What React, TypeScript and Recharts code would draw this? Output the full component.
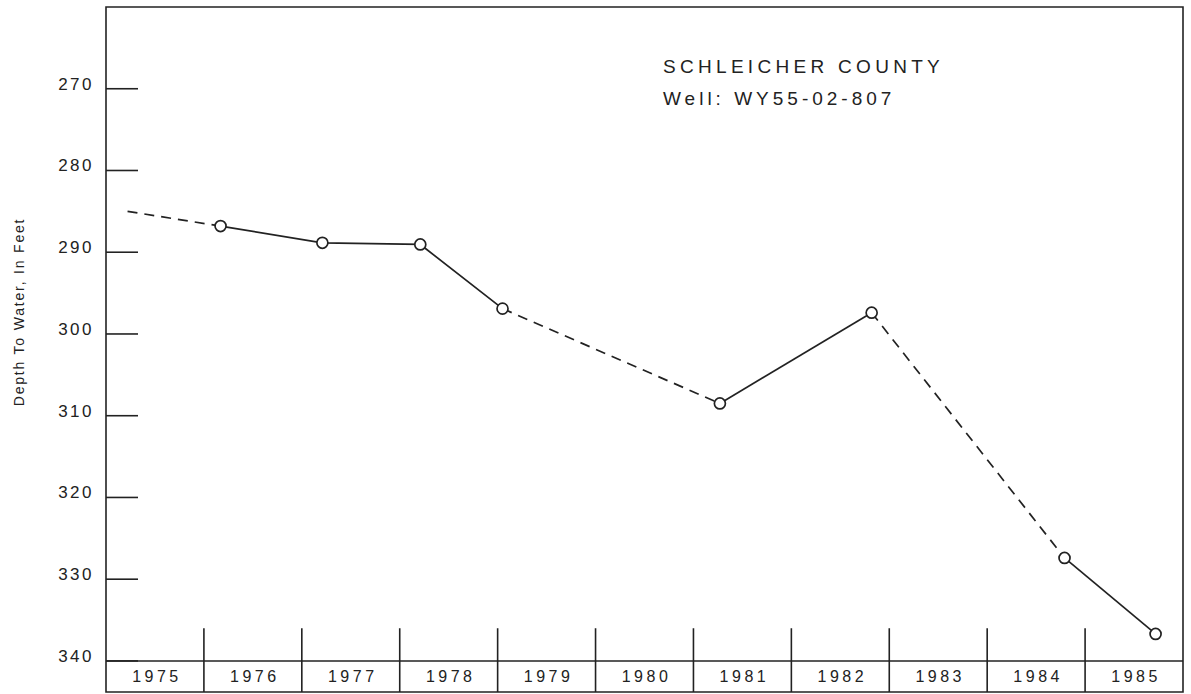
import React from "react";
import {
  LineChart,
  Line,
  XAxis,
  YAxis,
  ReferenceLine,
  ReferenceArea,
} from "recharts";

// year labels shown in the strip along the bottom
const yearLabels = ["1975", "1976", "1977", "1978", "1979", "1980", "1981", "1982", "1983", "1984", "1985"];
const yearBoundaries = [1976, 1977, 1978, 1979, 1980, 1981, 1982, 1983, 1984, 1985];
const depthTicks = [270, 280, 290, 300, 310, 320, 330, 340];

// measurement dates (decimal years) and depth to water in feet
const measureYears = [1975.22, 1976.17, 1977.21, 1978.21, 1979.05, 1981.27, 1982.82, 1984.79, 1985.72];
const depthFeet = [285.0, 286.8, 288.85, 289.05, 296.9, 308.5, 297.4, 327.4, 336.7];

// which points are joined by a dashed (estimated) or solid line
const dashedRuns = [[0, 1], [4, 5], [6, 7]];
const solidRuns = [[1, 4], [5, 6], [7, 8]];

const points = measureYears.map((year, i) => ({ year, depth: depthFeet[i] }));
const runData = (run: number[]) => points.slice(run[0], run[1] + 1);

const INK = "#222";
const FONT = "'Liberation Sans', Arial, sans-serif";

const DepthTick = (props: any) => {
  const { x, y, payload } = props;
  return (
    <g>
      <line x1={x} x2={x + 32} y1={y} y2={y} stroke={INK} strokeWidth={1.6} />
      <text x={x - 12} y={y + 1} textAnchor="end" fontSize={17} letterSpacing={2.5} fill={INK} fontFamily={FONT}>
        {payload.value}
      </text>
    </g>
  );
};

const YearLabel = (props: any) => {
  const { viewBox, text } = props;
  if (!viewBox) return null;
  return (
    <text
      x={viewBox.x + viewBox.width / 2 + 2}
      y={viewBox.y + viewBox.height / 2 + 6}
      textAnchor="middle"
      fontSize={16}
      letterSpacing={3.5}
      fill={INK}
      fontFamily={FONT}
    >
      {text}
    </text>
  );
};

const App = () => {
  return (
    <div style={{ position: "absolute", left: 0, top: 0, background: "#fff" }}>
      <LineChart width={1191} height={694} margin={{ top: 7, right: 8, bottom: 2, left: 0 }}>
        <XAxis dataKey="year" type="number" domain={[1975, 1986]} hide allowDataOverflow />
        <YAxis
          type="number"
          reversed
          domain={[260, 343.8]}
          ticks={depthTicks}
          tick={<DepthTick />}
          axisLine={false}
          tickLine={false}
          tickSize={0}
          tickMargin={0}
          width={106}
          allowDataOverflow
        />
        <ReferenceArea x1={1975} x2={1986} y1={260} y2={343.8} fill="none" stroke={INK} strokeWidth={1.6} />
        <ReferenceLine y={340} stroke={INK} strokeWidth={1.6} />
        {yearBoundaries.map((b) => (
          <ReferenceLine
            key={b}
            segment={[{ x: b, y: 336.0 }, { x: b, y: 343.8 }]}
            stroke={INK}
            strokeWidth={1.6}
          />
        ))}
        {yearLabels.map((label, i) => (
          <ReferenceArea
            key={label}
            x1={1975 + i}
            x2={1976 + i}
            y1={340}
            y2={343.8}
            fill="none"
            stroke="none"
            label={<YearLabel text={label} />}
          />
        ))}
        {dashedRuns.map((run, i) => (
          <Line
            key={"d" + i}
            data={runData(run)}
            dataKey="depth"
            type="linear"
            stroke={INK}
            strokeWidth={1.7}
            strokeDasharray="10 7"
            dot={false}
            activeDot={false}
            isAnimationActive={false}
          />
        ))}
        {solidRuns.map((run, i) => (
          <Line
            key={"s" + i}
            data={runData(run)}
            dataKey="depth"
            type="linear"
            stroke={INK}
            strokeWidth={1.7}
            dot={{ r: 5.5, fill: "#fff", stroke: INK, strokeWidth: 1.7 }}
            activeDot={false}
            isAnimationActive={false}
          />
        ))}
        <text x={663} y={73} fontSize={19} letterSpacing={4.3} fill={INK} fontFamily={FONT}>
          SCHLEICHER COUNTY
        </text>
        <text x={663} y={105} fontSize={19} letterSpacing={4} fill={INK} fontFamily={FONT}>
          Well: WY55-02-807
        </text>
        <text
          x={24}
          y={312}
          transform="rotate(-90 24 312)"
          textAnchor="middle"
          fontSize={14}
          letterSpacing={1.8}
          fill={INK}
          fontFamily={FONT}
        >
          Depth To Water, In Feet
        </text>
      </LineChart>
    </div>
  );
};

export default App;
